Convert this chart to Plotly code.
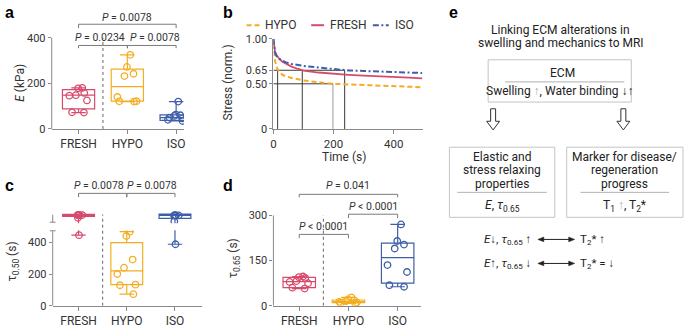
import plotly.graph_objects as go

W, H = 685, 330
FONT = "Roboto"
TXT = "#333333"
AX = "#8a8a8a"

groups = ["FRESH", "HYPO", "ISO"]
colors = ["#D64B6C", "#F4AD20", "#3E5EA8"]

# ---------- panel a: E (kPa) ----------
E_FRESH = [180, 178, 158, 148, 146, 125, 73, 72]
E_HYPO = [325, 272, 242, 232, 140, 122, 121, 120]
E_ISO = [120, 63, 60, 57, 50, 46, 40, 35]
E_Q1 = [88, 122, 38]
E_MED = [148, 186, 50]
E_Q3 = [172, 262, 62]
E_LO = [72, 120, 35]
E_HI = [180, 325, 120]

# ---------- panel b: stress relaxation ----------
T = [0, 2, 5, 10, 15, 20, 30, 40, 60, 80, 100, 150, 200, 250, 300, 350, 400, 450, 495]
S_HYPO = [0.95, 0.85, 0.76, 0.69, 0.65, 0.625, 0.60, 0.585, 0.565, 0.55, 0.538, 0.517, 0.50, 0.493, 0.487, 0.481, 0.475, 0.468, 0.462]
S_FRESH = [1.00, 0.92, 0.86, 0.82, 0.795, 0.775, 0.745, 0.725, 0.69, 0.667, 0.647, 0.625, 0.61, 0.60, 0.59, 0.58, 0.574, 0.568, 0.56]
S_ISO = [1.00, 0.90, 0.85, 0.81, 0.79, 0.775, 0.755, 0.74, 0.72, 0.707, 0.698, 0.68, 0.664, 0.648, 0.642, 0.636, 0.63, 0.625, 0.62]
T65 = [96, 14, 237]      # FRESH, HYPO, ISO time to 0.65
T50_HYPO = 198
B_YTICKS = [0, 0.50, 0.65, 1.00]
B_YLABELS = ["0", "0.50", "0.65", "1.00"]

# ---------- panel c: tau 0.50 (s) ----------
C_FRESH = [572, 572, 572, 572, 572, 572, 555, 445]
C_HYPO = [467, 440, 291, 240, 200, 133, 129, 73]
C_ISO = [570, 570, 570, 570, 570, 570, 531, 388]
C_Q1 = [563, 133, 551]
C_MED = [572, 220, 570]
C_Q3 = [576, 398, 578]
C_LO = [445, 73, 388]
C_HI = [576, 467, 578]

# ---------- panel d: tau 0.65 (s) ----------
D_FRESH = [97, 95, 92, 82, 79, 75, 60, 57]
D_HYPO = [28, 21, 18, 15, 13, 11, 9, 8]
D_ISO = [270, 215, 203, 190, 135, 112, 68, 63]
D_Q1 = [60, 10, 75]
D_MED = [80, 14, 160]
D_Q3 = [94, 19, 208]
D_LO = [57, 8, 63]
D_HI = [97, 28, 270]


def px(x):
    return x / W


def py(y):
    return 1 - y / H


fig = go.Figure()
shapes = []
annots = []


def txt(x, y, s, size=12, xa="center", ya="middle", angle=0, color=TXT, xref="paper", yref="paper", family=FONT):
    annots.append(dict(x=x, y=y, xref=xref, yref=yref, text=s, showarrow=False, xanchor=xa, yanchor=ya,
                       textangle=angle, font=dict(family=family, size=size, color=color)))


def box_panel(n, pts, q1, med, q3, lo, hi):
    xa, ya = ("x%d" % n if n > 1 else "x"), ("y%d" % n if n > 1 else "y")
    for i, (vals, c) in enumerate(zip(pts, colors)):
        fig.add_trace(go.Box(x=[i], q1=[q1[i]], median=[med[i]], q3=[q3[i]], lowerfence=[lo[i]],
                             upperfence=[hi[i]], width=0.66, whiskerwidth=0.45, boxpoints=False,
                             line=dict(color=c, width=1.2), fillcolor="rgba(255,255,255,0)",
                             xaxis=xa, yaxis=ya, showlegend=False, hoverinfo="skip"))
        fig.add_trace(go.Box(x=[i] * len(vals), y=vals, width=0.66, boxpoints="all", pointpos=0, jitter=0.8,
                             line=dict(color="rgba(0,0,0,0)", width=0), fillcolor="rgba(0,0,0,0)",
                             marker=dict(symbol="circle-open", size=6.5, color=c, line=dict(width=1.3)),
                             xaxis=xa, yaxis=ya, showlegend=False, hoverinfo="skip"))


def bracket(n, x0, x1, y, drop, label, tx, ty):
    xa, ya = ("x%d" % n if n > 1 else "x"), ("y%d" % n if n > 1 else "y")
    shapes.append(dict(type="path", xref=xa, yref=ya,
                       path="M %s,%s L %s,%s L %s,%s L %s,%s" % (x0, y - drop, x0, y, x1, y, x1, y - drop),
                       line=dict(color="#7a7a7a", width=1)))
    txt(tx, ty, label, size=10.5, xref=xa, yref=ya)


box_panel(1, [E_FRESH, E_HYPO, E_ISO], E_Q1, E_MED, E_Q3, E_LO, E_HI)

# panel b curves
for s, c, d, w, name in [(S_HYPO, colors[1], "5px,3px", 2, "HYPO"),
                         (S_FRESH, colors[0], "solid", 1.8, "FRESH"),
                         (S_ISO, colors[2], "6px,2.5px,2px,2.5px", 2, "ISO")]:
    fig.add_trace(go.Scatter(x=T, y=s, mode="lines", line=dict(color=c, width=w, dash=d),
                             xaxis="x2", yaxis="y2", showlegend=False, hoverinfo="skip", name=name))

box_panel(3, [C_FRESH, C_HYPO, C_ISO], C_Q1, C_MED, C_Q3, C_LO, C_HI)
box_panel(4, [D_FRESH, D_HYPO, D_ISO], D_Q1, D_MED, D_Q3, D_LO, D_HI)

common_x = dict(tickvals=[0, 1, 2], ticktext=groups, ticks="outside", ticklen=4, tickcolor=AX,
                showline=True, linecolor=AX, linewidth=1, zeroline=False, showgrid=False, type="linear",
                tickfont=dict(family=FONT, size=12, color=TXT), fixedrange=True)
common_y = dict(ticks="outside", ticklen=3, tickcolor=AX, showline=False, zeroline=False, showgrid=False,
                tickfont=dict(family=FONT, size=11, color=TXT), fixedrange=True)

fig.update_layout(
    width=W, height=H, margin=dict(l=0, r=0, t=0, b=0), paper_bgcolor="white", plot_bgcolor="white",
    boxmode="overlay", showlegend=False,
    xaxis=dict(common_x, domain=[px(49), px(182)], range=[-0.55, 2.16], anchor="y"),
    yaxis=dict(common_y, domain=[py(128), py(9.25)], range=[0, 500], tickvals=[0, 200, 400], anchor="x"),
    xaxis2=dict(common_x, domain=[px(272), px(422)], range=[0, 496], tickvals=[0, 200, 400],
                ticktext=["0", "200", "400"], anchor="y2", tickfont=dict(family=FONT, size=11.5, color=TXT)),
    yaxis2=dict(common_y, domain=[py(128), py(34)], range=[0, 1.0], tickvals=B_YTICKS, ticktext=B_YLABELS,
                showline=True, linecolor=AX, anchor="x2"),
    xaxis3=dict(common_x, domain=[px(50), px(200)], range=[-0.536, 2.557], anchor="y3"),
    yaxis3=dict(common_y, domain=[py(312), py(185)], range=[0, 770], tickvals=[0, 200, 400], anchor="x3"),
    xaxis4=dict(common_x, domain=[px(272), px(420)], range=[-0.525, 2.465], anchor="y4"),
    yaxis4=dict(common_y, domain=[py(312), py(185.1)], range=[0, 405], tickvals=[0, 150, 300], anchor="x4"),
)

# ---- panel a decorations ----
shapes.append(dict(type="line", xref="x domain", yref="y", x0=0, x1=0, y0=0, y1=400, line=dict(color=AX, width=1)))
shapes.append(dict(type="line", xref="x", yref="y", x0=0.5, x1=0.5, y0=0, y1=400,
                   line=dict(color="#666", width=1, dash="dot")))
bracket(1, 0, 2, 459, 17, "<i>P</i> = 0.0078", 1, 488)
bracket(1, 0, 1, 366, 12, "<i>P</i> = 0.0234", 0.43, 400)
bracket(1, 1, 2, 366, 12, "<i>P</i> = 0.0078", 1.57, 400)

# ---- panel b decorations ----
REF = "#3a3a3a"
shapes.append(dict(type="line", xref="x2", yref="y2", x0=0, x1=T65[2], y0=0.65, y1=0.65, line=dict(color=REF, width=1), layer="below"))
shapes.append(dict(type="line", xref="x2", yref="y2", x0=0, x1=T50_HYPO, y0=0.5, y1=0.5, line=dict(color=REF, width=1), layer="below"))
for t in T65:
    shapes.append(dict(type="line", xref="x2", yref="y2", x0=t, x1=t, y0=0, y1=0.65, line=dict(color=REF, width=1), layer="below"))
shapes.append(dict(type="line", xref="x2", yref="y2", x0=T50_HYPO, x1=T50_HYPO, y0=0, y1=0.5, line=dict(color="#9a9a9a", width=1), layer="below"))

# legend of b
leg = [("HYPO", colors[1], "5px,3px", 245, 258, 262), ("FRESH", colors[0], "solid", 310, 323, 327),
       ("ISO", colors[2], "6px,2.5px,2px,2.5px", 372, 388, 392)]
for name, c, d, x0, x1, xt in leg:
    shapes.append(dict(type="line", xref="paper", yref="paper", x0=px(x0), x1=px(x1), y0=py(20), y1=py(20),
                       line=dict(color=c, width=2, dash=d)))
    txt(px(xt), py(20), name, size=12, xa="left")

# ---- panel c decorations ----
shapes.append(dict(type="rect", xref="x3", yref="y3", x0=-0.45, x1=2.55, y0=476, y1=520,
                   fillcolor="white", line=dict(width=0), layer="above"))
shapes.append(dict(type="line", xref="x3", yref="y3", x0=0.5, x1=0.5, y0=0, y1=576,
                   line=dict(color="#666", width=1, dash="dot")))
shapes.append(dict(type="line", xref="x3 domain", yref="y3", x0=0, x1=0, y0=0, y1=473, line=dict(color=AX, width=1)))
shapes.append(dict(type="line", xref="x3 domain", yref="y3", x0=-0.02, x1=0.02, y0=473, y1=473, line=dict(color=AX, width=1)))
shapes.append(dict(type="line", xref="x3 domain", yref="y3", x0=0, x1=0, y0=527, y1=574, line=dict(color=AX, width=1)))
shapes.append(dict(type="line", xref="x3 domain", yref="y3", x0=-0.02, x1=0.02, y0=527, y1=527, line=dict(color=AX, width=1)))
bracket(3, 0, 1, 709, 24, "<i>P</i> = 0.0078", 0.43, 758)
bracket(3, 1, 2, 709, 24, "<i>P</i> = 0.0078", 1.53, 758)

# ---- panel d decorations ----
shapes.append(dict(type="line", xref="x4 domain", yref="y4", x0=0, x1=0, y0=0, y1=300, line=dict(color=AX, width=1)))
shapes.append(dict(type="line", xref="x4", yref="y4", x0=0.49, x1=0.49, y0=0, y1=300,
                   line=dict(color="#666", width=1, dash="dot")))
bracket(4, 0, 2, 370, 10, "<i>P</i> = 0.041", 1, 398)
bracket(4, 1, 2, 304, 13, "<i>P</i> &lt; 0.0001", 1.5, 331)
bracket(4, 0, 1, 237, 13, "<i>P</i> &lt; 0.0001", 0.5, 262)

# ---- axis titles ----
txt(px(17), py(80), "<i>E</i> (kPa)", angle=-90)
txt(px(226), py(80), "Stress (norm.)", angle=-90)
txt(px(343), py(157), "Time (s)")
txt(px(10), py(266), "τ<sub>0.50</sub> (s)", angle=-90)
txt(px(232), py(263), "τ<sub>0.65</sub> (s)", angle=-90)

# ---- panel letters ----
for lab, x, y in [("a", 0, 7), ("b", 219, 7), ("c", 0, 187), ("d", 219, 187), ("e", 447, 7)]:
    txt(px(x), py(y), "<b>%s</b>" % lab, size=16, xa="left", color="black", family="Liberation Sans")

# ---- panel e: schematic ----
BORDER = "#c4c4c4"
DK = "#222222"
GR = "#a9a9a9"
txt(px(561), py(25), "Linking ECM alterations in", color=DK)
txt(px(561), py(38), "swelling and mechanics to MRI", color=DK)


def rect(x0, y0, x1, y1):
    shapes.append(dict(type="rect", xref="paper", yref="paper", x0=px(x0), x1=px(x1), y0=py(y1), y1=py(y0),
                       line=dict(color=BORDER, width=1), fillcolor="rgba(0,0,0,0)"))


def hline(x0, x1, y, color="#b0b0b0"):
    shapes.append(dict(type="line", xref="paper", yref="paper", x0=px(x0), x1=px(x1), y0=py(y), y1=py(y),
                       line=dict(color=color, width=1)))


def poly(pts, fill, line_color="#222", lw=1):
    path = "M " + " L ".join("%.5f,%.5f" % (px(a), py(b)) for a, b in pts) + " Z"
    shapes.append(dict(type="path", xref="paper", yref="paper", path=path,
                       line=dict(color=line_color, width=lw), fillcolor=fill))


rect(488, 56, 632, 100)
txt(px(563), py(70), "ECM", color=DK)
hline(505, 625, 79)
txt(px(560), py(89), "Swelling <span style='color:%s'>↑</span>, Water binding ↓↑" % GR, color=DK)


def hollow_arrow(cx, top, bot):
    poly([(cx - 2.5, top), (cx + 2.5, top), (cx + 2.5, bot - 9), (cx + 6.5, bot - 9), (cx, bot),
          (cx - 6.5, bot - 9), (cx - 2.5, bot - 9)], "white", "#333")


hollow_arrow(493, 107, 129)
hollow_arrow(624, 107, 129)

rect(449, 147, 555, 220)
rect(567, 147, 684, 220)
for i, s in enumerate(["Elastic and", "stress relaxing", "properties"]):
    txt(px(502), py(157 + 14 * i), s, color=DK)
for i, s in enumerate(["Marker for disease/", "regeneration", "progress"]):
    txt(px(625), py(157 + 14 * i), s, color=DK)
hline(457, 547, 194)
hline(581, 670, 194)
txt(px(502), py(208), "<i>E</i>, <i>τ</i><sub>0.65</sub>", color=DK)
txt(px(625), py(208), "T<sub>1</sub> <span style='color:%s'>↑</span>, T<sub>2</sub>*" % GR, color=DK)

for y, left, right in [(243, "<i>E</i>↓, <i>τ</i><sub>0.65</sub> ↑", "T<sub>2</sub>* ↑"),
                       (268, "<i>E</i>↑, <i>τ</i><sub>0.65</sub> ↓", "T<sub>2</sub>* = ↓")]:
    txt(px(533), py(y), left, size=11.5, xa="right", color=DK)
    txt(px(578), py(y), right, size=11.5, xa="left", color=DK)
    hline(540, 573, y, color="#222")
    poly([(575, y), (569, y - 2.5), (569, y + 2.5)], "#222", "#222", 0.5)
    poly([(538, y), (544, y - 2.5), (544, y + 2.5)], "#222", "#222", 0.5)

fig.update_layout(shapes=shapes, annotations=annots)
fig.write_html("out.html", config={"displayModeBar": False},
               post_script="document.body.style.margin='0';document.body.style.padding='0';")
